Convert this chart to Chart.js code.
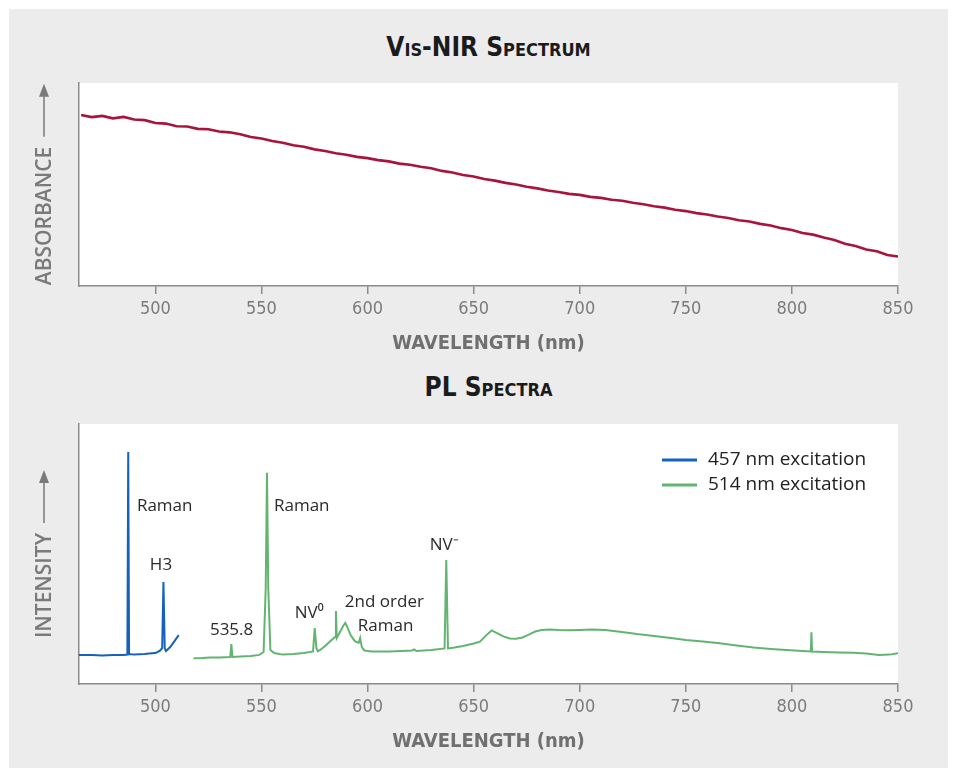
<!DOCTYPE html>
<html>
<head>
<meta charset="utf-8">
<script src="https://cdn.jsdelivr.net/npm/chart.js@4.4.1/dist/chart.umd.min.js"></script>
<style>
  html, body { margin: 0; padding: 0; background: #fff; }
  #panel { position: absolute; left: 9px; top: 9px; width: 939px; height: 759px; background: #ececec; }
  .ttl {
    position: absolute; left: 70px; width: 819px; text-align: center;
    font-family: 'Liberation Sans Narrow', 'DejaVu Sans Condensed', sans-serif;
    font-weight: bold; font-size: 26px; font-variant: small-caps; color: #1b1b1b;
    line-height: 30px;
  }
  .box { position: absolute; left: 0; width: 939px; }
</style>
</head>
<body>
<div id="panel">
  <div class="ttl" style="top:23px">Vis-NIR Spectrum</div>
  <div class="box" style="top:51px;height:310px"><canvas id="visnir"></canvas></div>
  <div class="ttl" style="top:363px">PL Spectra</div>
  <div class="box" style="top:391px;height:368px"><canvas id="pl"></canvas></div>
</div>
<script>
// wavelength ticks shared by both plots
const xTicks = [500, 550, 600, 650, 700, 750, 800, 850];

// Vis-NIR absorbance (arbitrary units)
const visWavelength = [465, 470, 475, 480, 485, 490, 495, 500, 505, 510, 515, 520, 525, 530, 535, 540, 545, 550, 555, 560,
  565, 570, 575, 580, 585, 590, 595, 600, 605, 610, 615, 620, 625, 630, 635, 640, 645, 650, 655, 660,
  665, 670, 675, 680, 685, 690, 695, 700, 705, 710, 715, 720, 725, 730, 735, 740, 745, 750, 755, 760,
  765, 770, 775, 780, 785, 790, 795, 800, 805, 810, 815, 820, 825, 830, 835, 840, 845, 850];
const visAbsorbance = [0.842, 0.832, 0.838, 0.826, 0.833, 0.820, 0.817, 0.803, 0.800, 0.787, 0.786, 0.774, 0.772, 0.761, 0.757, 0.748, 0.734, 0.727, 0.714, 0.706,
  0.693, 0.686, 0.673, 0.665, 0.654, 0.647, 0.636, 0.630, 0.620, 0.614, 0.603, 0.597, 0.587, 0.580, 0.567, 0.559, 0.547, 0.539, 0.527, 0.519,
  0.508, 0.500, 0.489, 0.481, 0.470, 0.463, 0.454, 0.449, 0.439, 0.434, 0.425, 0.420, 0.410, 0.403, 0.393, 0.386, 0.376, 0.369, 0.359, 0.352,
  0.342, 0.335, 0.324, 0.318, 0.306, 0.298, 0.285, 0.276, 0.261, 0.253, 0.239, 0.227, 0.208, 0.197, 0.180, 0.171, 0.153, 0.145];

// PL, 457 nm excitation
const pl457Wavelength = [464, 470, 475, 480, 485, 486.8, 487.2, 487.6, 490, 495, 497, 500, 502, 503.2, 503.8, 504.4, 505, 507, 509, 511];
const pl457Intensity = [11.2, 11.2, 11.0, 11.2, 11.2, 11.3, 89.2, 11.5, 11.3, 11.5, 11.7, 11.9, 12.7, 13.8, 39.2, 13.8, 12.7, 14.2, 16.5, 18.8];

// PL, 514 nm excitation
const pl514Wavelength = [518, 522, 526, 530, 535.3, 535.8, 536.3, 540, 545, 549, 551, 552, 552.6, 553.2, 554.2, 556, 560, 565, 570, 574.3,
  575.1, 575.9, 576.6, 578, 580, 582.5, 584.7, 585.1, 585.5, 587, 588.5, 589.5, 590.5, 592, 594, 595.8, 596.5, 597.3, 598.5, 602,
  610, 616, 621, 622, 623, 630, 636.3, 637.1, 637.9, 641, 645, 650, 653, 656, 658.5, 661, 664, 667, 670, 673,
  676, 679, 682, 686, 690, 695, 700, 706, 712, 719, 727, 735, 743, 750, 758, 766, 774, 782, 790, 797.5,
  805, 808.9, 809.2, 809.5, 815, 822, 829, 835, 841, 846, 850];
const pl514Intensity = [9.9, 10.0, 10.2, 10.2, 10.4, 15.4, 10.4, 10.6, 10.8, 11.2, 12.3, 36.9, 81.2, 36.9, 13.1, 11.9, 11.3, 11.5, 11.9, 12.5,
  21.5, 13.8, 12.6, 13.3, 14.6, 16.5, 18.1, 28.1, 17.7, 20.0, 22.3, 23.5, 21.9, 18.8, 16.5, 15.8, 17.7, 14.2, 12.9, 12.5,
  12.5, 12.7, 12.9, 13.3, 12.7, 13.1, 13.7, 47.7, 13.7, 14.0, 14.6, 15.6, 16.3, 18.8, 20.6, 19.6, 18.3, 17.5, 17.4, 17.9,
  19.0, 20.2, 20.8, 21.0, 20.8, 20.7, 20.8, 21.0, 20.8, 20.1, 19.2, 18.5, 17.7, 16.9, 16.3, 15.7, 14.8, 14.0, 13.5, 13.1,
  12.7, 12.5, 19.9, 12.5, 12.3, 12.1, 12.0, 11.7, 11.2, 11.3, 11.8];

// peak labels (left edge wavelength, intensity at text middle)
const peakLabels = ['Raman', 'H3', '535.8', 'Raman', 'NV⁰', '2nd order', 'Raman', 'NV⁻'];
const peakLabelX = [491.3, 497.4, 525.7, 555.9, 565.7, 589.3, 595.4, 629.3];
const peakLabelY = [68.5, 45.8, 20.8, 68.5, 27.3, 31.5, 22.3, 53.5];

const toPoints = (xs, ys) => xs.map((x, i) => ({ x: x, y: ys[i] }));

const axisGray = '#8a8a8a';
const narrow = "'Liberation Sans Narrow', 'DejaVu Sans Condensed', sans-serif";

const plotBg = {
  id: 'plotBg',
  beforeDraw(chart) {
    const { ctx, chartArea: a } = chart;
    ctx.save();
    ctx.fillStyle = '#fff';
    ctx.fillRect(a.left, a.top, a.right - a.left, a.bottom - a.top);
    ctx.restore();
  }
};

// rotated y label with an arrow, centred on the plot area
const yLabel = {
  id: 'yLabel',
  afterDraw(chart, args, opts) {
    const { ctx, chartArea: a } = chart;
    ctx.save();
    ctx.font = "600 21px 'Open Sans', sans-serif";
    const w = ctx.measureText(opts.text).width;
    const total = w + 10 + 53;
    const start = (a.top + a.bottom) / 2 + total / 2;
    ctx.translate(35, start);
    ctx.rotate(-Math.PI / 2);
    ctx.fillStyle = '#7a7a7a';
    ctx.strokeStyle = '#7a7a7a';
    ctx.textBaseline = 'middle';
    ctx.fillText(opts.text, 0, 1);
    ctx.lineWidth = 1.5;
    ctx.beginPath();
    ctx.moveTo(w + 10, 0);
    ctx.lineTo(total - 8, 0);
    ctx.stroke();
    ctx.beginPath();
    ctx.moveTo(total, 0);
    ctx.lineTo(total - 13, -5);
    ctx.lineTo(total - 13, 5);
    ctx.closePath();
    ctx.fill();
    ctx.restore();
  }
};

const lineLegend = {
  id: 'lineLegend',
  afterDraw(chart, args, opts) {
    if (!opts.show) return;
    const { ctx, chartArea: a } = chart;
    ctx.save();
    ctx.font = "19px 'Open Sans', sans-serif";
    ctx.textBaseline = 'middle';
    chart.data.datasets.forEach((ds, i) => {
      const y = a.top + 36 + i * 25;
      ctx.strokeStyle = ds.borderColor;
      ctx.lineWidth = 3;
      ctx.beginPath();
      ctx.moveTo(a.right - 236, y);
      ctx.lineTo(a.right - 201, y);
      ctx.stroke();
      ctx.fillStyle = '#222';
      ctx.fillText(ds.label, a.right - 190, y);
    });
    ctx.restore();
  }
};

const peakText = {
  id: 'peakText',
  afterDatasetsDraw(chart, args, opts) {
    if (!opts.show) return;
    const { ctx, scales } = chart;
    ctx.save();
    ctx.font = "17px 'Open Sans', sans-serif";
    ctx.fillStyle = '#2a2a2a';
    ctx.textBaseline = 'middle';
    peakLabels.forEach((t, i) => {
      ctx.fillText(t, scales.x.getPixelForValue(peakLabelX[i]), scales.y.getPixelForValue(peakLabelY[i]));
    });
    ctx.restore();
  }
};

function xScale() {
  return {
    type: 'linear',
    min: 464,
    max: 850,
    afterBuildTicks: s => { s.ticks = xTicks.map(v => ({ value: v })); },
    afterFit: s => { s.height = 84; },
    grid: { drawOnChartArea: false, drawTicks: true, tickLength: 8, color: axisGray, lineWidth: 1.5 },
    border: { display: true, color: axisGray, width: 1.5 },
    ticks: { padding: 5, color: '#7b7b7b', font: { family: narrow, size: 18 }, maxRotation: 0 },
    title: {
      display: true, text: 'WAVELENGTH (nm)', color: '#707070',
      font: { family: narrow, size: 20, weight: 'bold' },
      padding: { top: 0, bottom: 14 }
    }
  };
}

function yScale(max) {
  return {
    min: 0,
    max: max,
    afterFit: s => { s.width = 70; },
    ticks: { display: false },
    grid: { display: false },
    border: { display: true, color: axisGray, width: 1.5 }
  };
}

new Chart(document.getElementById('visnir'), {
  type: 'line',
  data: {
    datasets: [{
      label: 'Absorbance',
      data: toPoints(visWavelength, visAbsorbance),
      borderColor: '#a8143c',
      borderWidth: 2.6,
      pointRadius: 0,
      tension: 0
    }]
  },
  options: {
    responsive: true,
    maintainAspectRatio: false,
    animation: false,
    layout: { padding: { top: 23, right: 50, left: 0, bottom: 0 } },
    plugins: {
      legend: { display: false },
      tooltip: { enabled: false },
      yLabel: { text: 'ABSORBANCE' }
    },
    scales: { x: xScale(), y: yScale(1) }
  },
  plugins: [plotBg, yLabel]
});

new Chart(document.getElementById('pl'), {
  type: 'line',
  data: {
    datasets: [
      {
        label: '457 nm excitation',
        data: toPoints(pl457Wavelength, pl457Intensity),
        borderColor: '#1462bd',
        borderWidth: 2,
        pointRadius: 0,
        tension: 0
      },
      {
        label: '514 nm excitation',
        data: toPoints(pl514Wavelength, pl514Intensity),
        borderColor: '#62b571',
        borderWidth: 2,
        pointRadius: 0,
        tension: 0
      }
    ]
  },
  options: {
    responsive: true,
    maintainAspectRatio: false,
    animation: false,
    layout: { padding: { top: 24, right: 50, left: 0, bottom: 0 } },
    plugins: {
      legend: { display: false },
      tooltip: { enabled: false },
      yLabel: { text: 'INTENSITY' },
      lineLegend: { show: true },
      peakText: { show: true }
    },
    scales: { x: xScale(), y: yScale(100) }
  },
  plugins: [plotBg, yLabel, lineLegend, peakText]
});
</script>
</body>
</html>
